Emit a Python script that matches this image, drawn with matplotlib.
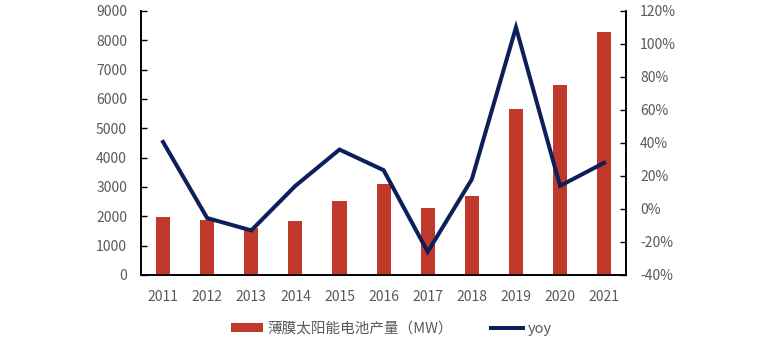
import matplotlib
matplotlib.use("Agg")
import matplotlib.pyplot as plt
import numpy as np
from matplotlib.ticker import FuncFormatter

plt.rcParams['font.family'] = ['Noto Sans CJK SC', 'DejaVu Sans']

years = ['2011', '2012', '2013', '2014', '2015', '2016', '2017', '2018', '2019', '2020', '2021']
output_mw = [1980, 1870, 1600, 1840, 2520, 3100, 2290, 2690, 5660, 6480, 8290]
yoy = [40.6, -5.5, -13.0, 14.0, 36.0, 23.5, -26.0, 18.0, 110.0, 14.0, 28.0]

bar_color = '#C0392B'
line_color = '#0C1F5B'
text_color = '#595959'

fig = plt.figure(figsize=(7.6, 3.42), dpi=100)
ax = fig.add_axes([0.1855, 0.196, 0.6385, 0.772])
ax2 = ax.twinx()

x = np.arange(len(years))
bars = ax.bar(x, output_mw, width=0.32, color=bar_color, label='薄膜太阳能电池产量（MW）', zorder=2)
line, = ax2.plot(x, yoy, color=line_color, lw=2.9, label='yoy', solid_joinstyle='miter')

ax.set_xlim(-0.5, len(years) - 0.5)
ax.set_ylim(0, 9000)
ax.set_yticks(range(0, 9001, 1000))
ax2.set_ylim(-40, 120)
ax2.set_yticks(range(-40, 121, 20))
ax2.yaxis.set_major_formatter(FuncFormatter(lambda v, p: f'{v:.0f}%'))

ax.set_xticks(x)
ax.set_xticklabels(years)

for a in (ax, ax2):
    a.spines['top'].set_visible(False)
    for s in a.spines.values():
        s.set_color('black')
        s.set_linewidth(1.2)
    a.tick_params(axis='both', colors='black', labelcolor=text_color, labelsize=10,
                  direction='in', length=4, width=1)
ax.tick_params(axis='x', length=0, pad=11)
ax.tick_params(axis='y', pad=10)
ax2.tick_params(axis='y', pad=10)

fig.legend(handles=[bars, line], loc='lower center', bbox_to_anchor=(0.515, -0.02), ncol=2,
           frameon=False, fontsize=10.5, labelcolor=text_color, handlelength=2.2,
           handleheight=0.55, handletextpad=0.3, columnspacing=2.6)

fig.savefig('out.png', dpi=100)
